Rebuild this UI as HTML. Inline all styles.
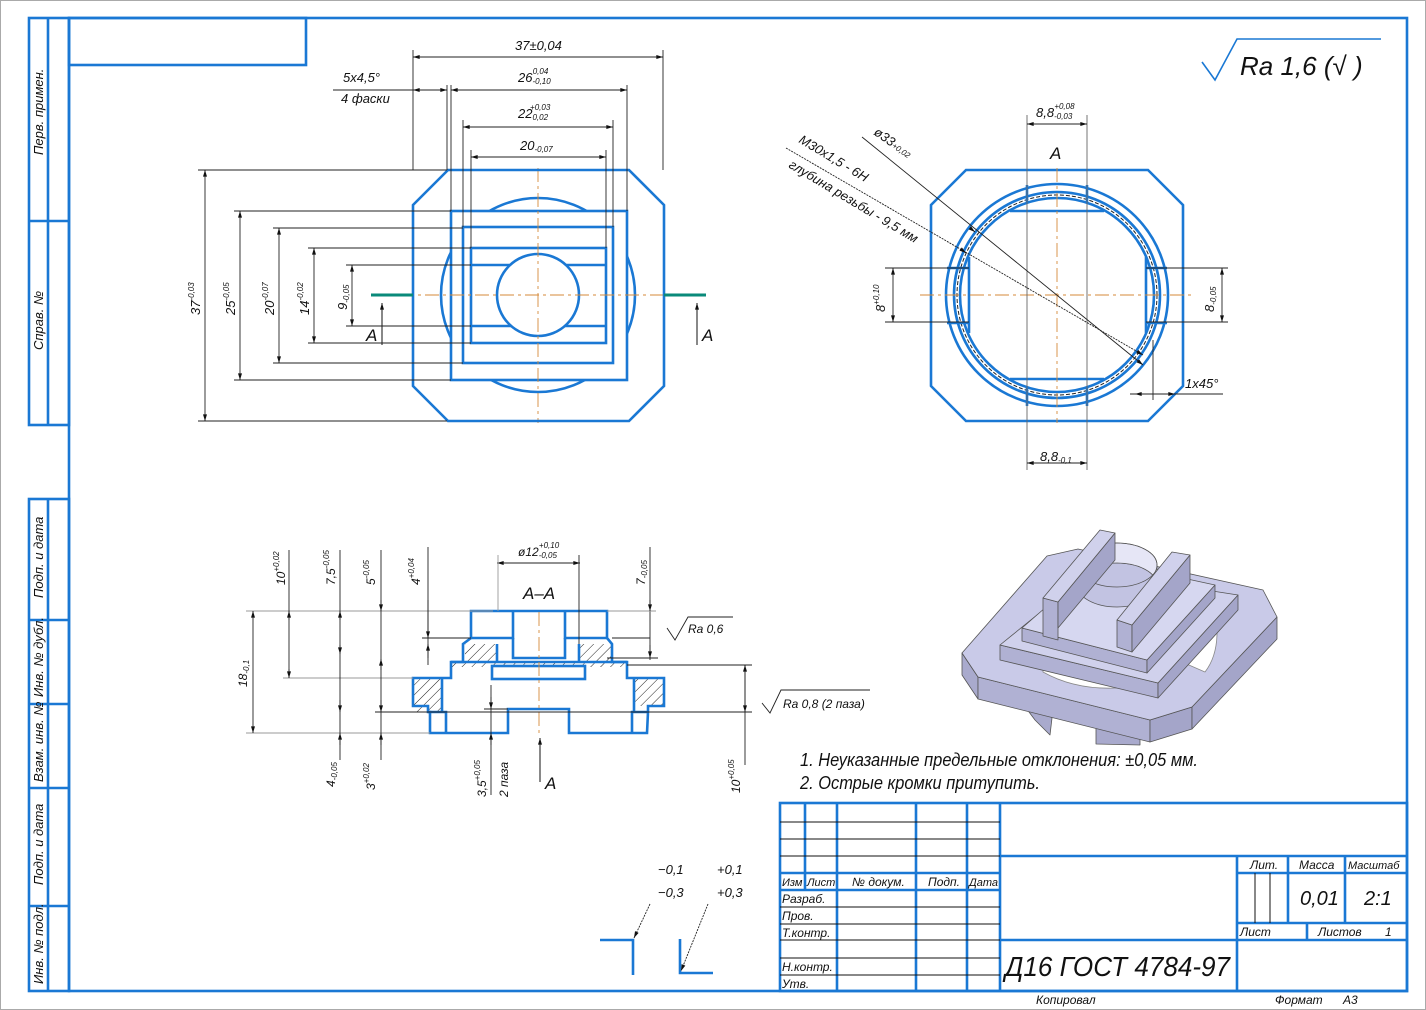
<!DOCTYPE html>
<html><head><meta charset="utf-8"><style>
html,body{margin:0;padding:0;background:#fff;}
svg{display:block;}
text{font-family:"Liberation Sans Narrow","Liberation Sans",sans-serif;font-style:italic;fill:#111;}
.b{stroke:#1a78d4;stroke-width:2.6;fill:none;}
.bt{stroke:#1a78d4;stroke-width:1.6;fill:none;}
.d{stroke:#222;stroke-width:0.9;fill:none;}
.c{stroke:#d48a3a;stroke-width:0.9;fill:none;stroke-dasharray:14 4 3 4;}
.k{stroke:#111;stroke-width:1;}
</style></head><body>
<svg width="1426" height="1010" viewBox="0 0 1426 1010" xmlns="http://www.w3.org/2000/svg">
<defs>
<pattern id="h" patternUnits="userSpaceOnUse" width="7" height="7" patternTransform="rotate(45)">
<line x1="0" y1="0" x2="0" y2="7" stroke="#222" stroke-width="1"/></pattern>
<marker id="a" viewBox="0 0 10 6" refX="10" refY="3" markerWidth="10" markerHeight="4" orient="auto-start-reverse" markerUnits="userSpaceOnUse"><path d="M0,0 L10,3 L0,6 z" fill="#111"/></marker>
</defs>
<rect x="0.5" y="0.5" width="1425" height="1009" fill="#fff" stroke="#aaa"/>
<rect x="69" y="18" width="1338" height="973" class="b"/>
<rect x="69" y="18" width="237" height="47" class="b"/>
<g class="b">
<rect x="29" y="18" width="40" height="407"/><line x1="48" y1="18" x2="48" y2="425"/><line x1="29" y1="221" x2="69" y2="221"/>
<rect x="29" y="499" width="40" height="492"/><line x1="48" y1="499" x2="48" y2="991"/>
<line x1="29" y1="620" x2="69" y2="620"/><line x1="29" y1="704" x2="69" y2="704"/><line x1="29" y1="788" x2="69" y2="788"/><line x1="29" y1="906" x2="69" y2="906"/>
</g>
<g font-size="13">
<text transform="translate(43,155) rotate(-90)">Перв. примен.</text>
<text transform="translate(43,350) rotate(-90)">Справ. №</text>
<text transform="translate(43,598) rotate(-90)">Подп. и дата</text>
<text transform="translate(43,697) rotate(-90)">Инв. № дубл.</text>
<text transform="translate(43,782) rotate(-90)">Взам. инв. №</text>
<text transform="translate(43,885) rotate(-90)">Подп. и дата</text>
<text transform="translate(43,984) rotate(-90)">Инв. № подл.</text>
</g>

<path d="M1202,62 L1215,80 L1237,39 L1381,39" class="bt" stroke-width="2"/>
<text x="1240" y="75" font-size="26">Ra 1,6 (√ )</text>

<circle cx="538" cy="295" r="97" class="b"/>
<rect x="451" y="211" width="176" height="169" class="b" style="fill:#fff"/>
<rect x="463" y="227" width="150" height="136" class="b"/>
<rect x="471" y="248" width="135" height="95" class="b"/>
<line x1="471" y1="265" x2="606" y2="265" class="b"/><line x1="471" y1="326" x2="606" y2="326" class="b"/>
<circle cx="538" cy="295" r="41" class="b" style="fill:#fff"/>
<line x1="538" y1="168" x2="538" y2="423" class="c"/><line x1="400" y1="295" x2="680" y2="295" class="c"/>
<polygon points="448,170 629,170 664,205 664,386 629,421 448,421 413,386 413,205" class="b"/>
<line x1="371" y1="295" x2="413" y2="295" stroke="#0a8a7a" stroke-width="3"/>
<line x1="664" y1="295" x2="706" y2="295" stroke="#0a8a7a" stroke-width="3"/>
<line x1="382" y1="345" x2="382" y2="303" class="k" marker-end="url(#a)"/>
<line x1="697" y1="345" x2="697" y2="303" class="k" marker-end="url(#a)"/>
<text x="366" y="341" font-size="17" font-style="normal">A</text>
<text x="702" y="341" font-size="17" font-style="normal">A</text>
<g class="d">
<line x1="413" y1="50" x2="413" y2="170"/><line x1="663" y1="50" x2="663" y2="170"/>
<line x1="413" y1="57" x2="663" y2="57" marker-start="url(#a)" marker-end="url(#a)"/>
<line x1="447" y1="85" x2="447" y2="170"/><line x1="451" y1="85" x2="451" y2="211"/><line x1="627" y1="85" x2="627" y2="211"/>
<line x1="451" y1="90" x2="627" y2="90" marker-start="url(#a)" marker-end="url(#a)"/>
<line x1="333" y1="90" x2="413" y2="90"/>
<line x1="413" y1="90" x2="447" y2="90" marker-start="url(#a)" marker-end="url(#a)"/>
<line x1="613" y1="120" x2="613" y2="227"/><line x1="463" y1="120" x2="463" y2="227"/>
<line x1="463" y1="127" x2="613" y2="127" marker-start="url(#a)" marker-end="url(#a)"/>
<line x1="606" y1="150" x2="606" y2="248"/><line x1="471" y1="150" x2="471" y2="248"/>
<line x1="471" y1="157" x2="606" y2="157" marker-start="url(#a)" marker-end="url(#a)"/>
<line x1="198" y1="170" x2="447" y2="170"/><line x1="198" y1="421" x2="447" y2="421"/>
<line x1="205" y1="170" x2="205" y2="421" marker-start="url(#a)" marker-end="url(#a)"/>
<line x1="234" y1="211" x2="451" y2="211"/><line x1="234" y1="380" x2="451" y2="380"/>
<line x1="240" y1="211" x2="240" y2="380" marker-start="url(#a)" marker-end="url(#a)"/>
<line x1="273" y1="228" x2="463" y2="228"/><line x1="273" y1="363" x2="463" y2="363"/>
<line x1="279" y1="228" x2="279" y2="363" marker-start="url(#a)" marker-end="url(#a)"/>
<line x1="308" y1="248" x2="471" y2="248"/><line x1="308" y1="343" x2="471" y2="343"/>
<line x1="314" y1="248" x2="314" y2="343" marker-start="url(#a)" marker-end="url(#a)"/>
<line x1="346" y1="265" x2="471" y2="265"/><line x1="346" y1="326" x2="471" y2="326"/>
<line x1="352" y1="265" x2="352" y2="326" marker-start="url(#a)" marker-end="url(#a)"/>
</g>
<g font-size="13">
<text x="515" y="50">37±0,04</text>
<text x="518" y="82">26<tspan font-size="8" dy="2">-0,10</tspan><tspan font-size="8" dx="-18" dy="-10">0,04</tspan></text>
<text x="518" y="118">22<tspan font-size="8" dy="2">0,02</tspan><tspan font-size="8" dx="-18" dy="-10">+0,03</tspan></text>
<text x="520" y="150">20<tspan font-size="8" dy="2">-0,07</tspan></text>
<text x="343" y="82">5x4,5°</text>
<text x="341" y="103">4 фаски</text>
<text transform="translate(200,315) rotate(-90)">37<tspan font-size="8" dy="-6">-0,03</tspan></text>
<text transform="translate(235,315) rotate(-90)">25<tspan font-size="8" dy="-6">-0,05</tspan></text>
<text transform="translate(274,315) rotate(-90)">20<tspan font-size="8" dy="-6">-0,07</tspan></text>
<text transform="translate(309,315) rotate(-90)">14<tspan font-size="8" dy="-6">-0,02</tspan></text>
<text transform="translate(347,310) rotate(-90)">9<tspan font-size="8" dy="2">-0,05</tspan></text>
</g>

<polygon points="966,170 1148,170 1183,205 1183,386 1148,421 966,421 931,386 931,205" class="b"/>
<circle cx="1057" cy="295" r="111" class="b"/>
<circle cx="1057" cy="295" r="103" class="b"/>
<circle cx="1057" cy="295" r="100" fill="none" stroke="#222" stroke-width="1" stroke-dasharray="4 2"/>
<circle cx="1057" cy="295" r="97" class="b"/>
<g class="b">
<line x1="1010" y1="211" x2="1104" y2="211"/><line x1="1010" y1="379" x2="1104" y2="379"/>
<line x1="969" y1="257" x2="969" y2="333"/><line x1="1146" y1="257" x2="1146" y2="333"/>
<line x1="1027" y1="185" x2="1027" y2="203"/><line x1="1087" y1="185" x2="1087" y2="203"/>
<line x1="1027" y1="388" x2="1027" y2="406"/><line x1="1087" y1="388" x2="1087" y2="406"/>
<line x1="947" y1="268" x2="969" y2="268"/><line x1="947" y1="323" x2="969" y2="323"/>
<line x1="1146" y1="268" x2="1167" y2="268"/><line x1="1146" y1="323" x2="1167" y2="323"/>
</g>
<line x1="1057" y1="168" x2="1057" y2="423" class="c"/><line x1="920" y1="295" x2="1195" y2="295" class="c"/>
<g class="d">
<line x1="1027" y1="115" x2="1027" y2="470" stroke="#666"/><line x1="1087" y1="115" x2="1087" y2="470" stroke="#666"/>
<line x1="1027" y1="124" x2="1087" y2="124" marker-start="url(#a)" marker-end="url(#a)"/>
<line x1="1027" y1="463" x2="1087" y2="463" marker-start="url(#a)" marker-end="url(#a)"/>
<line x1="885" y1="268" x2="969" y2="268"/><line x1="885" y1="322" x2="969" y2="322"/>
<line x1="893" y1="268" x2="893" y2="322" marker-start="url(#a)" marker-end="url(#a)"/>
<line x1="1146" y1="268" x2="1228" y2="268"/><line x1="1146" y1="322" x2="1228" y2="322"/>
<line x1="1222" y1="268" x2="1222" y2="322" marker-start="url(#a)" marker-end="url(#a)"/>
<line x1="862" y1="137" x2="1143" y2="365" marker-end="url(#a)"/>
<line x1="975" y1="232" x2="970" y2="228" marker-start="url(#a)"/>
<line x1="786" y1="148" x2="1143" y2="355" stroke-dasharray="2 1" marker-end="url(#a)"/>
<line x1="966" y1="253" x2="962" y2="250" marker-start="url(#a)"/>
<line x1="1153" y1="340" x2="1153" y2="400"/>
<line x1="1130" y1="394" x2="1223" y2="394"/>
<line x1="1135" y1="394" x2="1153" y2="394" marker-start="url(#a)"/>
<line x1="1157" y1="394" x2="1175" y2="394" marker-end="url(#a)"/>
</g>
<g font-size="13">
<text x="1036" y="117">8,8<tspan font-size="8" dy="2">-0,03</tspan><tspan font-size="8" dx="-18" dy="-10">+0,08</tspan></text>
<text x="1040" y="461">8,8<tspan font-size="8" dy="2">-0,1</tspan></text>
<text x="1050" y="159" font-size="17" font-style="normal">A</text>
<text transform="translate(885,312) rotate(-90)">8<tspan font-size="8" dy="-6">+0,10</tspan></text>
<text transform="translate(1214,312) rotate(-90)">8<tspan font-size="8" dy="2">-0,05</tspan></text>
<text transform="translate(873,134) rotate(35)">ø33<tspan font-size="8">+0,02</tspan></text>
<text transform="translate(798,142) rotate(31)">M30x1,5 - 6H</text>
<text transform="translate(788,167) rotate(31)">глубина резьбы - 9,5 мм</text>
<text x="1185" y="388">1x45°</text>
</g>

<rect x="465" y="644" width="32" height="18" fill="url(#h)"/>
<rect x="579" y="644" width="33" height="18" fill="url(#h)"/>
<rect x="451" y="661" width="176" height="6" fill="url(#h)"/>
<rect x="413" y="678" width="29" height="34" fill="url(#h)"/>
<rect x="634" y="678" width="30" height="28" fill="url(#h)"/>
<polygon points="471,611 607,611 607,638 612,644 612,662 627,662 627,678 664,678 664,706 648,706 648,712 647,733 569,733 569,709 508,709 508,733 430,733 430,712 428,712 428,706 413,706 413,678 451,678 451,662 463,662 463,644 471,638" class="b"/>
<g class="b">
<polyline points="513,611 513,638 471,638"/><polyline points="565,611 565,638 607,638"/>
<polyline points="513,638 513,658 565,658 565,638"/>
<line x1="497" y1="644" x2="497" y2="662"/><line x1="579" y1="644" x2="579" y2="662"/>
<line x1="451" y1="662" x2="627" y2="662"/>
<rect x="492" y="666" width="93" height="13"/>
<line x1="442" y1="678" x2="442" y2="712"/><line x1="634" y1="678" x2="634" y2="712"/>
<polyline points="428,712 446,712 446,733"/><polyline points="648,712 632,712 632,733"/>
</g>
<line x1="539" y1="612" x2="539" y2="733" class="c"/>
<text x="523" y="599" font-size="17" font-style="normal">A–A</text>
<line x1="540" y1="782" x2="540" y2="738" class="k" marker-end="url(#a)"/>
<text x="545" y="789" font-size="17" font-style="normal">A</text>
<g class="d">
<line x1="246" y1="611" x2="493" y2="611" stroke="#999"/><line x1="246" y1="733" x2="430" y2="733" stroke="#999"/>
<line x1="253" y1="611" x2="253" y2="733" marker-start="url(#a)" marker-end="url(#a)"/>
<line x1="289" y1="550" x2="289" y2="678"/><line x1="283" y1="678" x2="413" y2="678" stroke="#999"/>
<line x1="289" y1="620" x2="289" y2="611" marker-end="url(#a)"/><line x1="289" y1="669" x2="289" y2="678" marker-end="url(#a)"/>
<line x1="340" y1="550" x2="340" y2="760"/>
<line x1="340" y1="620" x2="340" y2="611" marker-end="url(#a)"/><line x1="340" y1="645" x2="340" y2="654" marker-end="url(#a)"/>
<line x1="340" y1="700" x2="340" y2="712" marker-end="url(#a)"/><line x1="340" y1="745" x2="340" y2="733" marker-end="url(#a)"/>
<line x1="381" y1="550" x2="381" y2="760"/>
<line x1="381" y1="600" x2="381" y2="611" marker-end="url(#a)"/><line x1="381" y1="670" x2="381" y2="659" marker-end="url(#a)"/>
<line x1="381" y1="700" x2="381" y2="712" marker-end="url(#a)"/><line x1="381" y1="745" x2="381" y2="733" marker-end="url(#a)"/>
<line x1="428" y1="547" x2="428" y2="665"/><line x1="422" y1="638" x2="471" y2="638"/>
<line x1="428" y1="600" x2="428" y2="638" marker-end="url(#a)"/><line x1="428" y1="658" x2="428" y2="644" marker-end="url(#a)"/>
<line x1="497" y1="563" x2="580" y2="563" marker-start="url(#a)" marker-end="url(#a)"/>
<line x1="498" y1="555" x2="498" y2="611" stroke="#999"/><line x1="579" y1="555" x2="579" y2="644"/>
<line x1="650" y1="547" x2="650" y2="660"/><line x1="607" y1="658" x2="658" y2="658"/><line x1="607" y1="611" x2="656" y2="611" stroke="#999"/>
<line x1="650" y1="600" x2="650" y2="611" marker-end="url(#a)"/><line x1="650" y1="645" x2="650" y2="658" marker-end="url(#a)"/>
<line x1="491" y1="685" x2="491" y2="795"/><line x1="484" y1="709" x2="508" y2="709"/>
<line x1="491" y1="697" x2="491" y2="709" marker-end="url(#a)"/><line x1="491" y1="745" x2="491" y2="733" marker-end="url(#a)"/>
<line x1="745" y1="665" x2="745" y2="765"/><line x1="627" y1="665" x2="752" y2="665"/>
<line x1="375" y1="712" x2="752" y2="712"/>
<line x1="745" y1="665" x2="745" y2="712" marker-start="url(#a)" marker-end="url(#a)"/>
<line x1="612" y1="638" x2="650" y2="638"/>
<path d="M667,628 L675,640 L688,617 L733,617"/>
<path d="M762,703 L770,713 L781,690 L870,690"/>
</g>
<g font-size="12">
<text x="688" y="633">Ra 0,6</text>
<text x="783" y="708">Ra 0,8 (2 паза)</text>
<text x="518" y="556">ø12<tspan font-size="8" dy="2">-0,05</tspan><tspan font-size="8" dx="-18" dy="-10">+0,10</tspan></text>
<text transform="translate(285,585) rotate(-90)">10<tspan font-size="8" dy="-6">+0,02</tspan></text>
<text transform="translate(335,585) rotate(-90)">7,5<tspan font-size="8" dy="-6">-0,05</tspan></text>
<text transform="translate(375,585) rotate(-90)">5<tspan font-size="8" dy="-6">-0,05</tspan></text>
<text transform="translate(420,585) rotate(-90)">4<tspan font-size="8" dy="-6">+0,04</tspan></text>
<text transform="translate(645,585) rotate(-90)">7<tspan font-size="8" dy="2">-0,05</tspan></text>
<text transform="translate(247,687) rotate(-90)">18<tspan font-size="8" dy="2">-0,1</tspan></text>
<text transform="translate(335,787) rotate(-90)">4<tspan font-size="8" dy="2">-0,05</tspan></text>
<text transform="translate(375,790) rotate(-90)">3<tspan font-size="8" dy="-6">+0,02</tspan></text>
<text transform="translate(486,797) rotate(-90)">3,5<tspan font-size="8" dy="-6">+0,05</tspan></text>
<text transform="translate(508,797) rotate(-90)">2 паза</text>
<text transform="translate(740,793) rotate(-90)">10<tspan font-size="8" dy="-6">+0,05</tspan></text>
</g>

<g stroke="#555" stroke-width="0.8" stroke-linejoin="round">
<polygon points="1020,700 1035,720 1050,735 1052,718 1040,705" fill="#a9aacd"/>
<polygon points="1096,725 1096,744 1140,745 1140,728" fill="#a9aacd"/>
<polygon points="962,653 978,677 978,699 962,675" fill="#a9aacd"/>
<polygon points="978,677 1150,720 1150,742 978,699" fill="#b0b1d3"/>
<polygon points="1150,720 1192,707 1192,729 1150,742" fill="#a4a5c9"/>
<polygon points="1192,707 1277,617 1277,639 1192,729" fill="#a4a5c9"/>
<polygon points="962,653 1047,556 1078,549 1263,590 1277,617 1192,707 1150,720 978,677" fill="#c9cae8"/>
<path d="M1043,660 L1117,676 L1117,688 Q1075,690 1043,672 z" fill="#fff" stroke="#888"/>
<path d="M1182,640 L1215,610 Q1222,650 1205,672 L1182,662 z" fill="#fff" stroke="#888"/>
<polygon points="1000,645 1158,683 1158,698 1000,660" fill="#b0b1d3"/>
<polygon points="1158,683 1238,595 1238,610 1158,698" fill="#a4a5c9"/>
<polygon points="1000,645 1090,572 1238,595 1158,683" fill="#d0d1ec"/>
<polygon points="1022,628 1147,660 1147,673 1022,641" fill="#b0b1d3"/>
<polygon points="1147,660 1215,585 1215,598 1147,673" fill="#a4a5c9"/>
<polygon points="1022,628 1100,560 1215,585 1147,660" fill="#d6d7f0"/>
<ellipse cx="1117" cy="585" rx="40" ry="22" fill="#c2c3e2"/>
<path d="M1077,585 A40,22 0 0,1 1157,585 L1157,565 A40,22 0 0,0 1077,565 z" fill="#e6e6f6"/>
<ellipse cx="1117" cy="565" rx="40" ry="22" fill="none"/>
<polygon points="1043,598 1058,602 1058,640 1043,636" fill="#b0b1d3"/>
<polygon points="1058,602 1115,533 1115,560 1058,628" fill="#a4a5c9"/>
<polygon points="1043,598 1100,530 1115,533 1058,602" fill="#d0d1ec"/>
<polygon points="1117,620 1132,625 1132,652 1117,647" fill="#b0b1d3"/>
<polygon points="1132,625 1190,555 1190,583 1132,652" fill="#a4a5c9"/>
<polygon points="1117,620 1172,552 1190,555 1132,625" fill="#d0d1ec"/>
</g>

<text x="800" y="766" font-size="18" textLength="398" lengthAdjust="spacingAndGlyphs">1. Неуказанные предельные отклонения: ±0,05 мм.</text>
<text x="800" y="789" font-size="18" textLength="240" lengthAdjust="spacingAndGlyphs">2. Острые кромки притупить.</text>

<g font-size="13"><text x="658" y="874">−0,1</text><text x="658" y="897">−0,3</text><text x="717" y="874">+0,1</text><text x="717" y="897">+0,3</text></g>
<g class="b"><polyline points="600,940 633,940 633,975"/><polyline points="680,939 680,973 713,973"/></g>
<line x1="650" y1="904" x2="634" y2="938" class="d" stroke-dasharray="2 1" marker-end="url(#a)"/>
<line x1="708" y1="904" x2="681" y2="971" class="d" stroke-dasharray="2 1" marker-end="url(#a)"/>

<g class="b">
<rect x="780" y="803" width="627" height="188"/>
<line x1="805" y1="803" x2="805" y2="890"/>
<line x1="837" y1="803" x2="837" y2="991"/><line x1="916" y1="803" x2="916" y2="991"/>
<line x1="967" y1="803" x2="967" y2="991"/><line x1="1000" y1="803" x2="1000" y2="991"/>
<line x1="780" y1="873" x2="1000" y2="873"/><line x1="780" y1="890" x2="1000" y2="890"/>
<line x1="1000" y1="856" x2="1407" y2="856"/><line x1="1000" y1="940" x2="1407" y2="940"/>
<line x1="1237" y1="856" x2="1237" y2="991"/>
<line x1="1237" y1="873" x2="1407" y2="873"/><line x1="1237" y1="923" x2="1407" y2="923"/>
<line x1="1288" y1="856" x2="1288" y2="923"/><line x1="1345" y1="856" x2="1345" y2="923"/>
<line x1="1307" y1="923" x2="1307" y2="940"/>
</g>
<g stroke="#111" stroke-width="1">
<line x1="780" y1="822" x2="1000" y2="822"/><line x1="780" y1="839" x2="1000" y2="839"/><line x1="780" y1="856" x2="1000" y2="856"/>
<line x1="780" y1="907" x2="1000" y2="907"/><line x1="780" y1="924" x2="1000" y2="924"/><line x1="780" y1="940" x2="1000" y2="940"/>
<line x1="780" y1="958" x2="1000" y2="958"/><line x1="780" y1="975" x2="1000" y2="975"/>
<line x1="1255" y1="873" x2="1255" y2="923"/><line x1="1270" y1="873" x2="1270" y2="923"/>
</g>
<g font-size="12">
<text x="782" y="886" font-size="11">Изм</text><text x="807" y="886" font-size="11">Лист</text><text x="852" y="886">№ докум.</text><text x="928" y="886">Подп.</text><text x="969" y="886" font-size="11">Дата</text>
<text x="782" y="903">Разраб.</text><text x="782" y="920">Пров.</text><text x="782" y="937">Т.контр.</text>
<text x="782" y="971">Н.контр.</text><text x="782" y="988">Утв.</text>
<text x="1250" y="869">Лит.</text><text x="1299" y="869">Масса</text><text x="1348" y="869" font-size="11">Масштаб</text>
<text x="1240" y="936">Лист</text><text x="1318" y="936">Листов</text><text x="1385" y="936">1</text>
<text x="1036" y="1004">Копировал</text><text x="1275" y="1004">Формат</text><text x="1343" y="1004">А3</text>
</g>
<text x="1300" y="905" font-size="20">0,01</text>
<text x="1364" y="905" font-size="20">2:1</text>
<text x="1005" y="976" font-size="28" textLength="225" lengthAdjust="spacingAndGlyphs">Д16  ГОСТ 4784-97</text>
</svg>
</body></html>
